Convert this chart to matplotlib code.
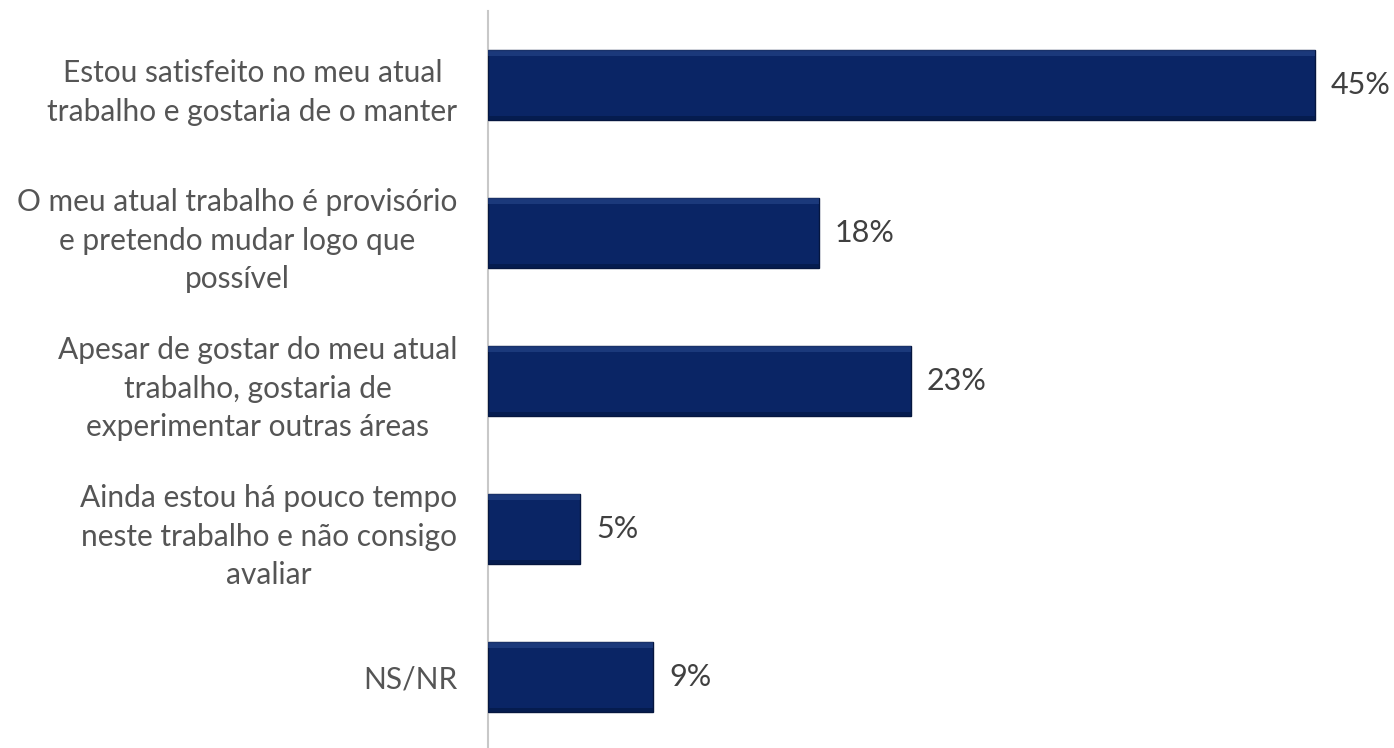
import matplotlib
matplotlib.use("Agg")
import matplotlib.pyplot as plt
from matplotlib.patches import Rectangle

categories = [
    "Estou satisfeito no meu atual\ntrabalho e gostaria de o manter",
    "O meu atual trabalho é provisório\ne pretendo mudar logo que\npossível",
    "Apesar de gostar do meu atual\ntrabalho, gostaria de\nexperimentar outras áreas",
    "Ainda estou há pouco tempo\nneste trabalho e não consigo\navaliar",
    "NS/NR",
]
values = [45, 18, 23, 5, 9]
value_labels = ["45%", "18%", "23%", "5%", "9%"]

plt.rcParams['font.family'] = ['Lato', 'DejaVu Sans']

fig = plt.figure(figsize=(13.94, 7.48), dpi=100)
ax = fig.add_axes([488/1394, -3/748, (1394-488)/1394, 740/748])

ypos = list(range(len(categories)))
bh = 0.47
ax.barh(ypos, values, height=bh, color='#0a2565', edgecolor='#05163f', linewidth=1.0, zorder=3)
# bevel highlight on top edge, darker bottom edge
for y, v in zip(ypos, values):
    ax.add_patch(Rectangle((0, y - bh/2), v, bh*0.08, facecolor='#2a4a8e', edgecolor='none', zorder=4, alpha=0.55))
    ax.add_patch(Rectangle((0, y + bh/2 - bh*0.06), v, bh*0.06, facecolor='#041a4a', edgecolor='none', zorder=4, alpha=0.8))

ax.set_xlim(0, (1394-488)/18.38)
ax.set_ylim(len(categories) - 0.5, -0.5)

for y, v, lab in zip(ypos, values, value_labels):
    ax.annotate(lab, (v, y), xytext=(16, 0), textcoords='offset pixels',
                ha='left', va='center', fontsize=22, color='#404040')

ax.set_yticks(ypos)
ax.set_yticklabels(categories, fontsize=21.5, color='#555555', multialignment='center', linespacing=1.45)
ax.tick_params(axis='y', length=0, pad=22)
ax.set_xticks([])
for s in ['top', 'right', 'bottom']:
    ax.spines[s].set_visible(False)
ax.spines['left'].set_color('#c8c8c8')
ax.spines['left'].set_linewidth(1.5)

fig.savefig("out.png", dpi=100)
